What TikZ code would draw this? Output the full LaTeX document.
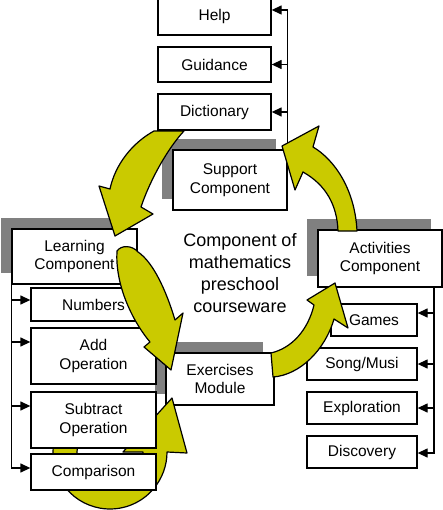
\documentclass[tikz,border=0pt]{standalone}
\usepackage{fontspec}
\setmainfont{Liberation Sans}
\usetikzlibrary{arrows.meta,shadows}
\definecolor{ylw}{RGB}{202,202,0}
\definecolor{shd}{RGB}{128,128,128}
\begin{document}
\begin{tikzpicture}[x=1pt,y=-1pt,
  box/.style={draw=black,line width=1.3pt,fill=white,inner sep=0pt,align=center,
    font=\fontsize{15.5}{18.5}\selectfont},
  sbox/.style={box,drop shadow={shadow xshift=-11pt,shadow yshift=11pt,fill=shd,opacity=1}},
  conn/.style={draw=black,line width=1.3pt},
  conarrow/.style={-{Triangle[length=10pt,width=9pt]}},
  yarr/.style={fill=ylw,draw=black,line width=1.2pt,line join=round}
]
\useasboundingbox (0,0) rectangle (443,510);

% main boxes with shadows
\node[sbox,minimum width=114pt,minimum height=60pt] (sup) at (230,180) {Support\\Component};
\node[sbox,minimum width=125pt,minimum height=55pt] (learn) at (74.5,256.5) {Learning\\Component};
\node[sbox,minimum width=124pt,minimum height=57pt] (act) at (380,258.5) {Activities\\Component};
\node[sbox,minimum width=108pt,minimum height=52pt] (exer) at (220,379) {Exercises\\Module};

% support items
\node[box,minimum width=113pt,minimum height=37pt] (help) at (214.5,16.5) {Help};
\node[box,minimum width=113pt,minimum height=35pt] (guid) at (214.5,64.5) {Guidance};

% activities items
\node[box,minimum width=86pt,minimum height=32pt] (games) at (374,320) {Games};
\node[box,minimum width=110pt,minimum height=32pt] (song) at (362,364) {Song/Musi};
\node[box,minimum width=110pt,minimum height=32pt] (expl) at (362,408) {Exploration};
\node[box,minimum width=110pt,minimum height=32pt] (disc) at (362,452) {Discovery};

% learning items
\node[box,minimum width=125pt,minimum height=33pt] (num) at (93.5,304.5) {Numbers};
\node[box,minimum width=125pt,minimum height=56pt] (add) at (93.5,356) {Add\\Operation};

% loop arrow into exercises (behind subtract / comparison)
\filldraw[yarr] (110,452) ++(190:57) arc[start angle=190,end angle=0,radius=57]
  -- (187,453) -- (172,398) -- (123,452) -- (143,452)
  arc[start angle=0,end angle=190,radius=33] -- cycle;

\node[box,minimum width=125pt,minimum height=56pt] (sub) at (93.5,420) {Subtract\\Operation};
\node[box,minimum width=125pt,minimum height=36pt] (cmp) at (93.5,472) {Comparison};

% support -> learning
\filldraw[yarr] (154,131) .. controls (132,143) and (115,165) .. (110,189)
  -- (99,186) -- (115,236) -- (153,214) -- (141,207)
  .. controls (150,180) and (168,148) .. (184,131) -- cycle;

\node[box,minimum width=113pt,minimum height=36pt] (dict) at (214.5,112) {Dictionary};

% centre text
\node[align=center,font=\fontsize{18}{22}\selectfont] (title) at (240,273)
  {Component of\\mathematics\\preschool\\courseware};

% connectors: support
\coordinate (tt) at (287,10);
\draw[conn,conarrow] (sup.north east) |- (help.east |- tt);
\draw[conn,conarrow] (sup.north east |- guid.east) -- (guid.east);
\draw[conn,conarrow] (sup.north east |- dict.east) -- (dict.east);

% connectors: learning
\coordinate (an) at ([yshift=4.5pt]num.west);
\coordinate (aa) at ([yshift=14pt]add.west);
\coordinate (as) at ([yshift=14pt]sub.west);
\coordinate (ac) at ([yshift=4pt]cmp.west);
\draw[conn,conarrow] (learn.south west) |- (ac);
\draw[conn,conarrow] (learn.south west |- an) -- (an);
\draw[conn,conarrow] (learn.south west |- aa) -- (aa);
\draw[conn,conarrow] (learn.south west |- as) -- (as);

% connectors: activities
\coordinate (rt) at (434,287);
\coordinate (ag) at ([yshift=7pt]games.east);
\coordinate (ad) at ([yshift=-1pt]disc.east);
\draw[conn,conarrow] (rt) |- (ad);
\draw[conn,conarrow] (rt |- ag) -- (ag);
\draw[conn,conarrow] (rt |- song.east) -- (song.east);
\draw[conn,conarrow] (rt |- expl.east) -- (expl.east);

% learning -> exercises
\filldraw[yarr] (117,251) .. controls (115,282) and (130,318) .. (150,342)
  -- (144,347) -- (171,370) -- (183,313) -- (175,320)
  .. controls (166,290) and (153,262) .. (138,252)
  .. controls (132,245) and (121,245) .. (117,251) -- cycle;

% exercises -> activities
\filldraw[yarr] (271,353) .. controls (292,348) and (308,330) .. (314,305)
  -- (307,300) -- (335,283) -- (348,328) -- (334,319)
  .. controls (325,350) and (300,375) .. (273,377) -- cycle;

% activities -> support
\filldraw[yarr] (338,231) .. controls (337,205) and (326,185) .. (303,172)
  -- (295,190) -- (282,146) -- (319,126) -- (313,147)
  .. controls (335,160) and (355,190) .. (357,231) -- cycle;
\end{tikzpicture}
\end{document}
